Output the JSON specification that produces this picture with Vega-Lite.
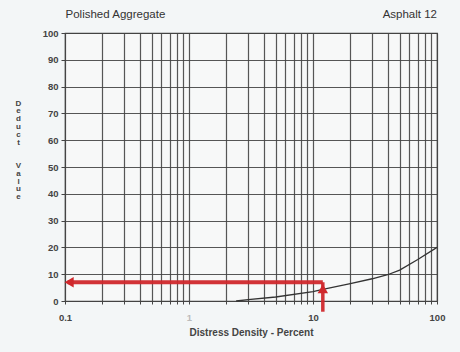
{
  "$schema": "https://vega.github.io/schema/vega-lite/v6.json",
  "width": 372,
  "height": 268,
  "autosize": "none",
  "padding": {"left": 65, "top": 33, "right": 23, "bottom": 51},
  "background": "#f3f6f7",
  "config": {
    "view": {"stroke": "#444", "strokeWidth": 1.2, "fill": "#f7f8f8"},
    "font": "Liberation Sans"
  },
  "datasets": {
    "curve": [
      {"density": 2.4, "deduct": 0},
      {"density": 3, "deduct": 0.5},
      {"density": 5, "deduct": 1.5},
      {"density": 10, "deduct": 3.5},
      {"density": 12, "deduct": 4.3},
      {"density": 20, "deduct": 6.5},
      {"density": 30, "deduct": 8.3},
      {"density": 40, "deduct": 9.8},
      {"density": 50, "deduct": 11.5},
      {"density": 70, "deduct": 15.5},
      {"density": 100, "deduct": 20}
    ],
    "hArrow": [
      {"density": 12, "deduct": 7},
      {"density": 0.105, "deduct": 7}
    ],
    "vArrow": [
      {"density": 12, "deduct": -4},
      {"density": 12, "deduct": 7}
    ],
    "heads": [
      {"density": 0.108, "deduct": 7, "shape": "triangle-left"},
      {"density": 12, "deduct": 4.6, "shape": "triangle-up"}
    ],
    "leftLabel": [
      {"density": 0.101, "deduct": 100, "label": "Polished Aggregate"}
    ],
    "rightLabel": [
      {"density": 100, "deduct": 100, "label": "Asphalt 12"}
    ]
  },
  "layer": [
    {
      "data": {"name": "curve"},
      "mark": {"type": "line", "color": "#333", "strokeWidth": 1.3},
      "encoding": {
        "x": {
          "field": "density",
          "type": "quantitative",
          "scale": {"type": "log", "domain": [0.1, 100], "nice": false},
          "axis": {
            "values": [0.1,0.2,0.3,0.4,0.5,0.6,0.7,0.8,0.9,1,2,3,4,5,6,7,8,9,10,20,30,40,50,60,70,80,90,100],
            "labelExpr": "datum.value == 0.1 ? '0.1' : (datum.value == 1 || datum.value == 10 || datum.value == 100) ? datum.label : ''",
            "format": "~g",
            "labelOverlap": false,
            "title": "Distress Density - Percent",
            "titleFontSize": 10,
            "titleFontWeight": "bold",
            "titleColor": "#444",
            "titlePadding": 6,
            "labelFontSize": 9.5,
            "labelFontWeight": "bold",
            "labelColor": {"condition": {"test": "datum.value == 1", "value": "#bbb"}, "value": "#444"},
            "labelPadding": 8,
            "labelFlush": false,
            "grid": true,
            "gridColor": "#444",
            "gridWidth": 1.2,
            "gridOpacity": 0.9,
            "domain": false,
            "ticks": true,
            "tickSize": 3,
            "tickColor": "#444"
          }
        },
        "y": {
          "field": "deduct",
          "type": "quantitative",
          "scale": {"domain": [0, 100], "nice": false},
          "axis": {
            "values": [0,10,20,30,40,50,60,70,80,90,100],
            "tickCount": 11,
            "labelOverlap": false,
            "title": ["D","e","d","u","c","t","\u2800","\u2800","V","a","l","u","e"],
            "titleAngle": 0,
            "titleFontSize": 8,
            "titleFontWeight": "bold",
            "titleColor": "#444",
            "titleLineHeight": 7.8,
            "titleAlign": "center",
            "titleBaseline": "top",
            "titleX": -47,
            "titleY": 66,
            "labelFontSize": 9.5,
            "labelFontWeight": "bold",
            "labelColor": "#444",
            "labelPadding": 3,
            "grid": true,
            "gridColor": "#444",
            "gridWidth": 1.2,
            "gridOpacity": 0.9,
            "domain": false,
            "ticks": true,
            "tickSize": 4,
            "tickColor": "#444"
          }
        }
      }
    },
    {
      "data": {"name": "hArrow"},
      "mark": {"type": "line", "color": "#d0282c", "strokeWidth": 4, "opacity": 0.95},
      "encoding": {
        "x": {"field": "density", "type": "quantitative"},
        "y": {"field": "deduct", "type": "quantitative"}
      }
    },
    {
      "data": {"name": "vArrow"},
      "mark": {"type": "line", "color": "#d0282c", "strokeWidth": 3.5, "opacity": 0.95},
      "encoding": {
        "x": {"field": "density", "type": "quantitative"},
        "y": {"field": "deduct", "type": "quantitative"},
        "order": {"field": "deduct", "type": "quantitative"}
      }
    },
    {
      "data": {"name": "heads"},
      "mark": {"type": "point", "filled": true, "color": "#d0282c", "size": 110, "opacity": 1},
      "encoding": {
        "x": {"field": "density", "type": "quantitative"},
        "y": {"field": "deduct", "type": "quantitative"},
        "shape": {"field": "shape", "type": "nominal", "scale": null}
      }
    },
    {
      "data": {"name": "leftLabel"},
      "mark": {"type": "text", "align": "left", "baseline": "alphabetic", "dy": -15, "fontSize": 11.5, "color": "#333"},
      "encoding": {
        "x": {"field": "density", "type": "quantitative"},
        "y": {"field": "deduct", "type": "quantitative"},
        "text": {"field": "label"}
      }
    },
    {
      "data": {"name": "rightLabel"},
      "mark": {"type": "text", "align": "right", "baseline": "alphabetic", "dy": -15, "fontSize": 11.5, "color": "#333"},
      "encoding": {
        "x": {"field": "density", "type": "quantitative"},
        "y": {"field": "deduct", "type": "quantitative"},
        "text": {"field": "label"}
      }
    }
  ]
}
